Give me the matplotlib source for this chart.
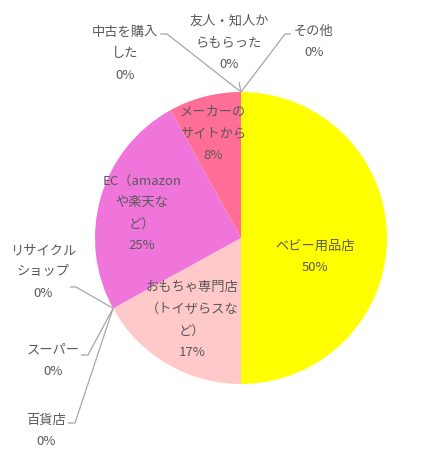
import matplotlib
matplotlib.use("Agg")
import matplotlib.pyplot as plt
import numpy as np

plt.rcParams['font.family'] = ['Noto Sans CJK JP', 'DejaVu Sans']

categories = ["ベビー用品店", "おもちゃ専門店（トイザらスなど）", "百貨店", "スーパー",
              "リサイクルショップ", "EC（amazonや楽天など）", "メーカーのサイトから",
              "中古を購入した", "友人・知人からもらった", "その他"]
label_lines = [["ベビー用品店"], ["おもちゃ専門店", "（トイザらスな", "ど）"], ["百貨店"],
               ["スーパー"], ["リサイクル", "ショップ"], ["EC（amazon", "や楽天な", "ど）"],
               ["メーカーの", "サイトから"], ["中古を購入", "した"], ["友人・知人か", "らもらった"],
               ["その他"]]
values = [50, 17, 0, 0, 0, 25, 8, 0, 0, 0]
colors = ["#FFFF00", "#FFC9C9", "#A5A5A5", "#FFC000", "#5B9BD5",
          "#F075DA", "#FF6E97", "#70AD47", "#264478", "#9E480E"]

W, H = 445, 453
fig = plt.figure(figsize=(W / 100, H / 100), dpi=100)
ax = fig.add_axes([0, 0, 1, 1])

cx, cy, R = 241, H - 238, 146
wedges, _ = ax.pie(values, colors=colors, startangle=90, counterclock=False,
                   center=(cx, cy), radius=R, wedgeprops=dict(linewidth=0),
                   frame=True)
ax.set_xlim(0, W)
ax.set_ylim(0, H)
ax.set_aspect('equal')
ax.axis('off')

# label positions (pixel coords of block centre), leader elbow/end
layout = {
    0: dict(pos=(315, 257)),
    1: dict(pos=(192, 320)),
    2: dict(pos=(46, 431), elbow=(75, 423), end=(68, 423)),
    3: dict(pos=(53, 361), elbow=(88, 355), end=(81, 355)),
    4: dict(pos=(43, 272), elbow=(76, 287), end=(70, 287)),
    5: dict(pos=(142, 213)),
    6: dict(pos=(213, 134)),
    7: dict(pos=(125, 54), elbow=(167, 34), end=(160, 34)),
    8: dict(pos=(229, 43), elbow=(239, 82), end=(239, 82)),
    9: dict(pos=(314, 42), elbow=(285, 34), end=(291, 34)),
}

total = sum(values)
txtcol = "#595959"
for i, (w, v) in enumerate(zip(wedges, values)):
    lay = layout[i]
    pct = f"{v / total * 100:.0f}%"
    text = "\n".join(label_lines[i] + [pct])
    x, y = lay['pos']
    ax.text(x, H - y, text, ha='center', va='center', fontsize=9.5,
            color=txtcol, linespacing=1.85)
    if 'elbow' in lay:
        ang = np.deg2rad((w.theta1 + w.theta2) / 2)
        ex, ey = cx + R * np.cos(ang), cy + R * np.sin(ang)
        bx, by = lay['elbow']
        tx, ty = lay['end']
        ax.plot([ex, bx, tx], [ey, H - by, H - ty], color="#A6A6A6", lw=0.9,
                solid_capstyle='butt')

fig.savefig("out.png", dpi=100)
